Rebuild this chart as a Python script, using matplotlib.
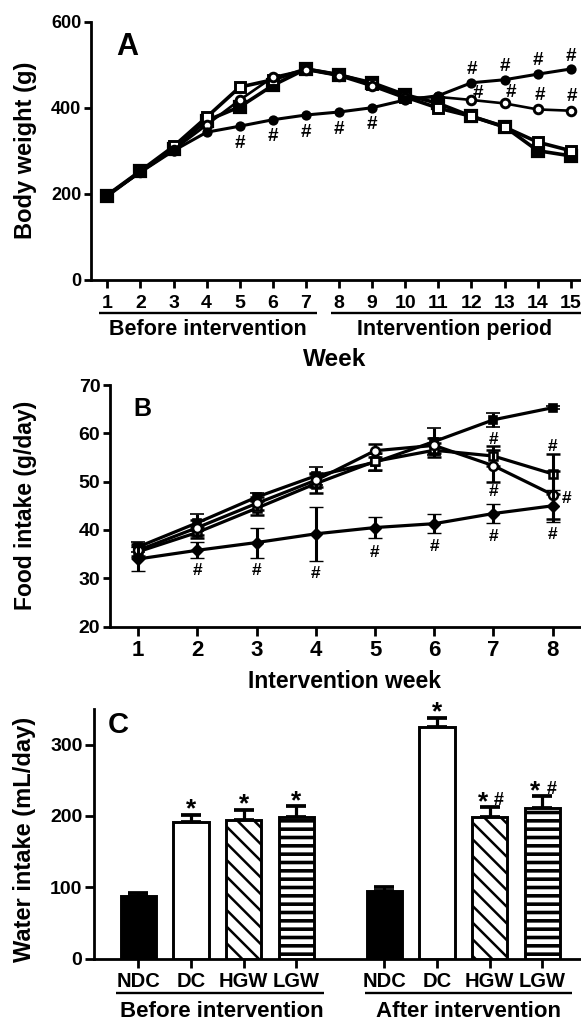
import matplotlib
matplotlib.use('Agg')
import matplotlib.pyplot as plt
import numpy as np
from matplotlib.lines import Line2D

plt.rcParams['font.family'] = ['Liberation Sans', 'DejaVu Sans']
plt.rcParams['font.weight'] = 'bold'
plt.rcParams['hatch.linewidth'] = 2.0

# ---------------- data ----------------
# Panel A: body weight (g) per week
weeks_A = list(range(1, 16))
bw_NDC = [197, 250, 300, 343, 357, 372, 383, 390, 400, 418, 428, 458, 465, 478, 490]
bw_DC = [195, 252, 305, 370, 402, 452, 490, 476, 458, 430, 410, 380, 356, 300, 288]
bw_HGW = [197, 253, 310, 378, 448, 465, 490, 477, 455, 425, 399, 380, 355, 320, 300]
bw_LGW = [197, 250, 302, 360, 418, 471, 488, 474, 450, 422, 425, 418, 410, 396, 393]
A_hash_x = [5, 6, 7, 8, 9, 12, 13, 14, 15, 12.2, 13.18, 14.06, 15.02]
A_hash_y = [316, 334, 342, 350, 362, 490, 496, 509, 519, 433, 435, 428, 426]
A_group_labels = ['Before intervention', 'Intervention period']

# Panel B: food intake (g/day) per intervention week
weeks_B = list(range(1, 9))
fi_NDC = [34.0, 35.8, 37.4, 39.2, 40.5, 41.3, 43.4, 45.0]
fi_NDC_err = [2.4, 1.7, 3.1, 5.6, 2.2, 1.9, 2.0, 3.3]
fi_DC = [36.5, 41.5, 46.8, 51.2, 54.0, 58.3, 62.8, 65.3]
fi_DC_err = [1.0, 1.8, 0.8, 1.8, 1.7, 2.8, 1.5, 0.3]
fi_HGW = [35.5, 39.5, 44.5, 49.6, 54.2, 56.5, 55.3, 51.6]
fi_HGW_err = [1.2, 1.2, 1.5, 2.0, 1.8, 1.5, 2.0, 4.1]
fi_LGW = [35.8, 40.5, 45.5, 50.3, 56.4, 57.5, 53.3, 47.3]
fi_LGW_err = [1.2, 1.5, 1.4, 1.5, 1.4, 1.5, 3.3, 5.0]
B_hash_x = [2, 3, 4, 5, 6, 7, 8, 7, 7, 8, 8.24]
B_hash_y = [31.7, 31.6, 31.0, 35.4, 36.6, 38.6, 39.0, 58.8, 47.9, 57.2, 46.6]

# Panel C: water intake (mL/day)
groups = ['NDC', 'DC', 'HGW', 'LGW']
wi_before = [87, 191, 194, 198]
wi_before_err = [5, 11, 15, 16]
wi_after = [95, 325, 199, 211]
wi_after_err = [5.5, 13, 13, 17]
C_period_labels = ['Before intervention', 'After intervention']
C_star_before = ['', '*', '*', '*']
C_star_after = ['', '*', '*', '*']
C_hash_after = ['', '', '#', '#']

# ---------------- figure ----------------
W, H = 581, 1021
fig = plt.figure(figsize=(W / 100, H / 100), dpi=100)


def fx(x):
    return x / W


def fy(y):
    return 1 - y / H


def rect(l, t, r, b):
    return [l / W, 1 - b / H, (r - l) / W, (b - t) / H]


def style_axes(ax, xlen, ylen, xpad, ypad, xfs, yfs):
    for s in ['top', 'right']:
        ax.spines[s].set_visible(False)
    for s in ['left', 'bottom']:
        ax.spines[s].set_linewidth(2.0)
    ax.tick_params(axis='x', direction='out', length=xlen, width=2.0, pad=xpad, labelsize=xfs)
    ax.tick_params(axis='y', direction='out', length=ylen, width=2.0, pad=ypad, labelsize=yfs)
    for lab in ax.get_xticklabels() + ax.get_yticklabels():
        lab.set_fontweight('bold')


def hline(x0, x1, y, lw=1.7):
    fig.add_artist(Line2D([fx(x0), fx(x1)], [fy(y), fy(y)], transform=fig.transFigure,
                          color='black', lw=lw, solid_capstyle='butt'))


def ftext(x, y, s, size, **kw):
    kw.setdefault('ha', 'center')
    kw.setdefault('va', 'baseline')
    fig.text(fx(x), fy(y), s, fontsize=size, fontweight='bold', **kw)


# ---------- Panel A ----------
axA = fig.add_axes(rect(90.5, 21.7, 581, 279.7))
lwA = 2.6
axA.plot(weeks_A, bw_DC, color='k', lw=lwA, marker='s', ms=8.0, mfc='k', mec='k', mew=1.6, clip_on=False, zorder=3)
axA.plot(weeks_A, bw_HGW, color='k', lw=lwA, marker='s', ms=7.8, mfc='white', mec='k', mew=2.1, clip_on=False, zorder=4)
axA.plot(weeks_A, bw_LGW, color='k', lw=1.9, marker='o', ms=6.2, mfc='white', mec='k', mew=2.1, clip_on=False, zorder=5)
axA.plot(weeks_A, bw_NDC, color='k', lw=2.2, marker='o', ms=7.4, mfc='k', mec='k', mew=0, clip_on=False, zorder=6)
for x, y in zip(A_hash_x, A_hash_y):
    axA.text(x, y, '#', ha='center', va='center', fontsize=13.5, fontweight='bold')
axA.set_xlim(0.49, 15.31)
axA.set_ylim(0, 600)
axA.set_yticks([0, 200, 400, 600])
axA.set_xticks(weeks_A)
axA.set_xticklabels([str(w) for w in weeks_A])
style_axes(axA, 6, 5, 5.0, 1.5, 14, 13)
ftext(116, 55, 'A', 22, ha='left')
hline(99.3, 316.7, 312.7)
hline(331, 581, 312.7)
ftext(208, 335, A_group_labels[0], 15.5)
ftext(455, 335, A_group_labels[1], 15.5)
ftext(335, 366, 'Week', 17.5)
ftext(26, 150.7, 'Body weight (g)', 17, rotation=90, va='center')

# ---------- Panel B ----------
axB = fig.add_axes(rect(110, 385, 581, 626.6))
ebkw = dict(color='k', lw=2.3, elinewidth=2.2, capsize=4.8, capthick=2.4, clip_on=False)
axB.errorbar(weeks_B, fi_DC, yerr=fi_DC_err, marker='s', ms=6.0, mfc='k', mec='k', mew=1.2, zorder=3, **ebkw)
axB.errorbar(weeks_B, fi_HGW, yerr=fi_HGW_err, marker='s', ms=5.8, mfc='white', mec='k', mew=1.8, zorder=4, **ebkw)
axB.errorbar(weeks_B, fi_LGW, yerr=fi_LGW_err, marker='o', ms=6.4, mfc='white', mec='k', mew=1.8, zorder=5, **ebkw)
axB.errorbar(weeks_B, fi_NDC, yerr=fi_NDC_err, marker='D', ms=6.0, mfc='k', mec='k', mew=1.0, zorder=6, **ebkw)
for x, y in zip(B_hash_x, B_hash_y):
    axB.text(x, y, '#', ha='center', va='center', fontsize=12.5, fontweight='bold')
axB.set_xlim(0.522, 8.48)
axB.set_ylim(20, 70)
axB.set_yticks([20, 30, 40, 50, 60, 70])
axB.set_xticks(weeks_B)
style_axes(axB, 6.5, 5, 3.0, 2.0, 16, 14)
ftext(133, 416, 'B', 18, ha='left')
ftext(345, 688, 'Intervention week', 16.5)
ftext(26, 505, 'Food intake (g/day)', 16.5, rotation=90, va='center')

# ---------- Panel C ----------
axC = fig.add_axes(rect(94.3, 709, 581, 958.5))
pos_b = np.arange(4)
pos_a = np.arange(4) + 4.667
bw = 0.67
faces = ['black', 'white', 'white', 'white']
hatches = [None, None, '\\\\', '--']
hatch_lws = [None, None, 1.8, 2.6]
for pos, vals, errs in [(pos_b, wi_before, wi_before_err), (pos_a, wi_after, wi_after_err)]:
    axC.errorbar(pos, vals, yerr=[np.zeros(4), errs], fmt='none', ecolor='k', elinewidth=2.3,
                 capsize=7.2, capthick=2.7, zorder=2)
    bars = axC.bar(pos, vals, width=bw, color=faces, edgecolor='k', linewidth=2.1, zorder=3)
    for b, h, hl in zip(bars, hatches, hatch_lws):
        if h:
            b.set_hatch(h)
            try:
                b.set_hatch_linewidth(hl)
            except AttributeError:
                pass


def star(x, ytop, dx=0):
    axC.annotate('*', xy=(x, ytop), xytext=(dx, -1.5), textcoords='offset points',
                 ha='center', va='baseline', fontsize=19, fontweight='bold')


def hashmark(x, ytop, dx=0):
    axC.annotate('#', xy=(x, ytop), xytext=(dx, 1.5), textcoords='offset points',
                 ha='center', va='baseline', fontsize=13, fontweight='bold')


for i in range(4):
    top_b = wi_before[i] + wi_before_err[i]
    top_a = wi_after[i] + wi_after_err[i]
    if C_star_before[i]:
        star(pos_b[i], top_b)
    if C_hash_after[i]:
        star(pos_a[i], top_a, dx=-5)
        hashmark(pos_a[i], top_a, dx=6.5)
    elif C_star_after[i]:
        star(pos_a[i], top_a)
axC.set_xlim(-0.835, 8.40)
axC.set_ylim(0, 350)
axC.set_yticks([0, 100, 200, 300])
axC.set_xticks(list(pos_b) + list(pos_a))
axC.set_xticklabels(groups + groups)
style_axes(axC, 6.5, 6.5, 3.4, 2.0, 14.5, 14)
ftext(108, 733, 'C', 21, ha='left')
hline(116, 324, 993.3)
hline(365, 572, 993.3)
ftext(222, 1016.7, C_period_labels[0], 16)
ftext(469, 1016.7, C_period_labels[1], 16)
ftext(24, 839, 'Water intake (mL/day)', 17, rotation=90, va='center')

fig.savefig('out.png', dpi=100)
